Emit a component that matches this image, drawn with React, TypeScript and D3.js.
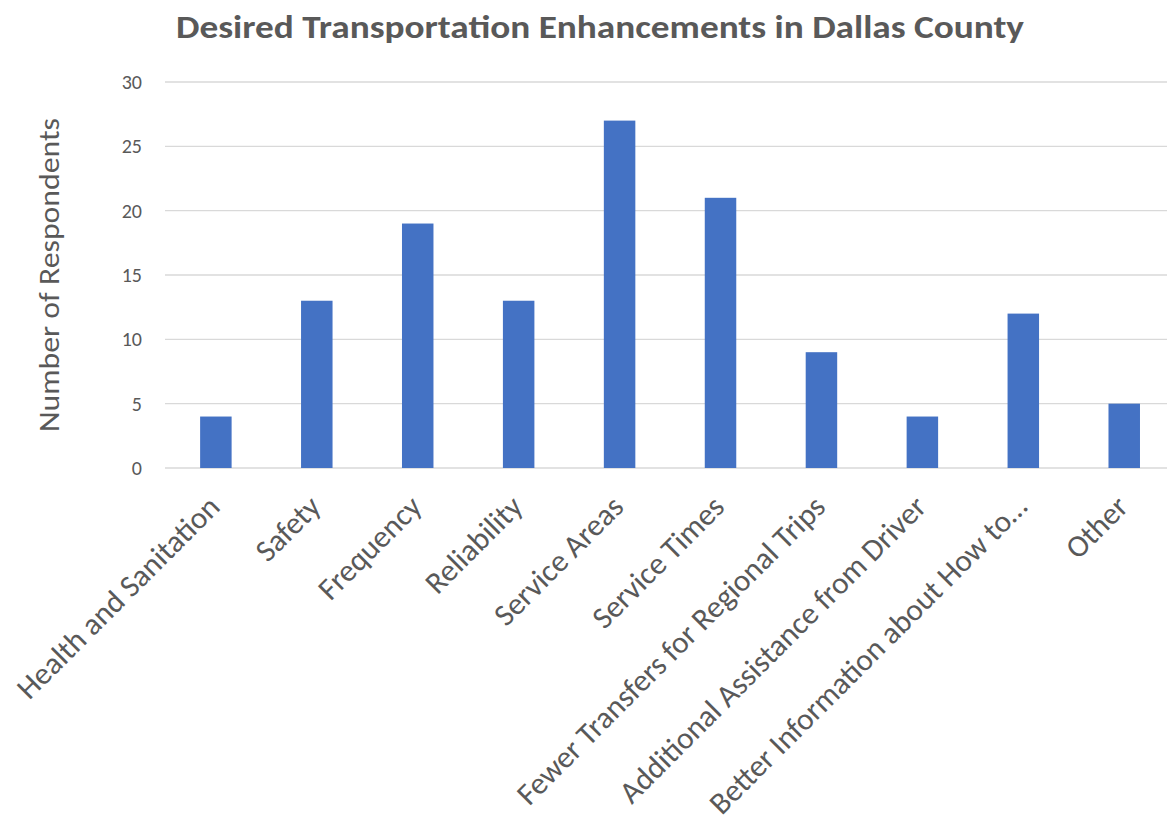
import React from "react";
import * as d3 from "d3";

const categories = [
  "Health and Sanitation",
  "Safety",
  "Frequency",
  "Reliability",
  "Service Areas",
  "Service Times",
  "Fewer Transfers for Regional Trips",
  "Additional Assistance from Driver",
  "Better Information about How to…",
  "Other",
];
const values = [4, 13, 19, 13, 27, 21, 9, 4, 12, 5];
const yTicks = [0, 5, 10, 15, 20, 25, 30];
const title = "Desired Transportation Enhancements in Dallas County";
const yTitle = "Number of Respondents";

const W = 1167;
const H = 828;
const FONT = "Carlito, Calibri, Lato, 'Open Sans', sans-serif";
const TEXT = "#595959";

export default function App() {
  const x = d3
    .scaleBand<string>()
    .domain(categories)
    .range([165.4, 1174.7])
    .paddingInner(0.688)
    .paddingOuter(0.344);
  const y = d3.scaleLinear().domain([0, 30]).range([468, 82]);

  return (
    <svg width={W} height={H} style={{ position: "absolute", left: 0, top: 0, background: "#fff" }}>
      <rect x={0} y={0} width={W} height={H} fill="#fff" />
      <text
        x={600}
        y={38}
        textAnchor="middle"
        fontFamily={FONT}
        fontWeight="bold"
        fontSize={32}
        fill={TEXT}
        textLength={848}
        lengthAdjust="spacingAndGlyphs"
      >
        {title}
      </text>
      {yTicks.map((t) => (
        <g key={t}>
          <line x1={165} x2={W} y1={y(t)} y2={y(t)} stroke="#D9D9D9" strokeWidth={1.4} />
          <text
            x={142}
            y={y(t)}
            dy="0.35em"
            textAnchor="end"
            fontFamily={FONT}
            fontSize={20}
            fill={TEXT}
          >
            {t}
          </text>
        </g>
      ))}
      {categories.map((c, i) => (
        <rect
          key={c}
          x={x(c)}
          y={y(values[i])}
          width={x.bandwidth()}
          height={y(0) - y(values[i])}
          fill="#4472C4"
        />
      ))}
      <text
        transform={`translate(59, 275) rotate(-90)`}
        textAnchor="middle"
        fontFamily={FONT}
        fontSize={29}
        fill={TEXT}
        textLength={314}
        lengthAdjust="spacingAndGlyphs"
      >
        {yTitle}
      </text>
      {categories.map((c) => {
        const cx = (x(c) as number) + x.bandwidth() / 2;
        return (
          <text
            key={c}
            transform={`translate(${cx - 2}, 501) rotate(-45)`}
            textAnchor="end"
            dy="0.35em"
            fontFamily={FONT}
            fontSize={31}
            fill={TEXT}
          >
            {c}
          </text>
        );
      })}
    </svg>
  );
}
